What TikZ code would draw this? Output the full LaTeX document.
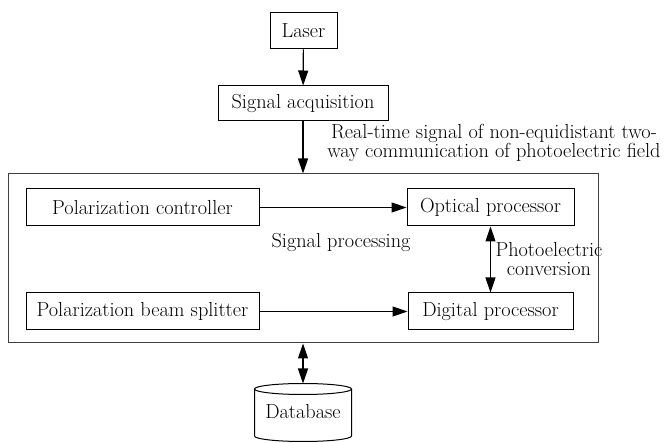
\documentclass[tikz,border=0pt]{standalone}
\usetikzlibrary{arrows.meta}
\begin{document}
\begin{tikzpicture}[x=1pt,y=-1pt,
  box/.style={draw,line width=1pt,inner sep=0pt,font=\fontsize{20.3}{18.5}\selectfont},
  lbl/.style={inner sep=0pt,align=center,font=\fontsize{20.3}{18.5}\selectfont},
  arr/.style={line width=1.2pt,-{Triangle[length=15pt,width=10pt]}},
  darr/.style={line width=1.2pt,{Triangle[length=15pt,width=10pt]}-{Triangle[length=15pt,width=10pt]}}]
\useasboundingbox (0,0) rectangle (665,443);
\node[box,minimum width=67pt,minimum height=36pt] (laser) at (303.5,31) {Laser};
\node[box,minimum width=170pt,minimum height=35pt] (acq) at (303,103.5) {Signal acquisition};
\node[draw,line width=1pt,draw=black!75,inner sep=0pt,minimum width=590pt,minimum height=169pt] (big) at (303,258.5) {};
\node[box,minimum width=233pt,minimum height=37pt] (pc) at (142.5,207.5) {Polarization controller};
\node[box,minimum width=233pt,minimum height=37pt] (pbs) at (142.5,311.5) {Polarization beam splitter};
\node[box,minimum width=167pt,minimum height=37pt] (op) at (490.5,207.5) {Optical processor};
\node[box,minimum width=165pt,minimum height=37pt] (dp) at (490.5,311.5) {Digital processor};
\node[lbl] (rt) at (494,143) {Real-time signal of non-equidistant two-\\way communication of photoelectric field};
\node[lbl] (sp) at (341,242) {Signal processing};
\node[lbl] (pe) at (549,259) {Photoelectric\\conversion};
% database cylinder
\draw[line width=1pt] (254.5,389) -- (254.5,436) arc[start angle=180,end angle=360,x radius=48.5pt,y radius=5.5pt] -- (351.5,389);
\draw[line width=1pt] (303,389) ellipse[x radius=48.5pt,y radius=5.5pt];
\coordinate (dbtop) at (303,383.5);
\node[lbl] (db) at (303,412) {Database};
% connectors
\draw[arr] (laser) -- (acq);
\draw[arr] (acq) -- (big.north -| acq);
\draw[arr] (pc) -- (op);
\draw[arr] (pbs) -- (dp);
\draw[darr] (op) -- (dp);
\draw[darr] (big.south -| dbtop) -- (dbtop);
\end{tikzpicture}
\end{document}
